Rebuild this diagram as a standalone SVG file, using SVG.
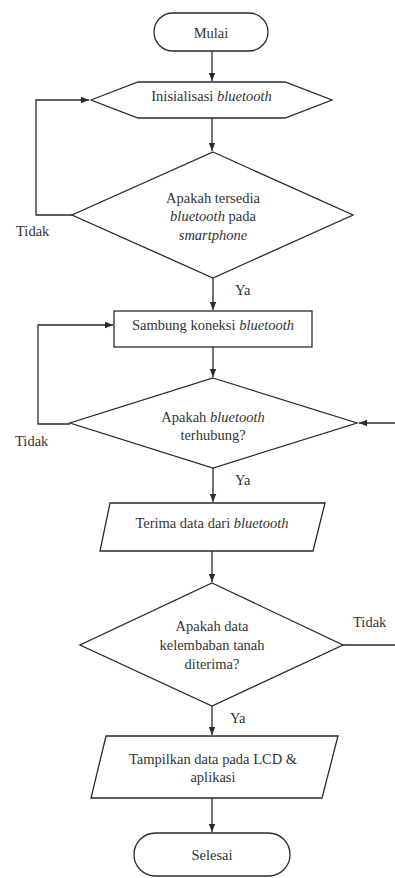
<svg xmlns="http://www.w3.org/2000/svg" width="395" height="878" viewBox="0 0 395 878">
<style>
  .shape { fill: #ffffff; stroke: #2a2a2a; stroke-width: 1.3; }
  .conn { fill: none; stroke: #2a2a2a; stroke-width: 1.3; }
  text { font-family: "Liberation Serif", "Times New Roman", serif; font-size: 14.5px; fill: #333333; }
  .c { text-anchor: middle; }
  .i { font-style: italic; }
</style>
<defs>
  <marker id="ah" markerUnits="userSpaceOnUse" markerWidth="8" markerHeight="8" viewBox="0 0 8 8" refX="8" refY="4" orient="auto">
    <path d="M0,0.8 L8,4 L0,7.2 Z" fill="#2a2a2a"/>
  </marker>
</defs>
<rect width="395" height="878" fill="#ffffff"/>

<g id="connectors">
  <line class="conn" x1="212" y1="51" x2="212" y2="81" marker-end="url(#ah)"/>
  <line class="conn" x1="212" y1="118" x2="212" y2="151" marker-end="url(#ah)"/>
  <polyline class="conn" points="72,215 36,215 36,100 89,100" marker-end="url(#ah)"/>
  <line class="conn" x1="213" y1="278" x2="213" y2="310" marker-end="url(#ah)"/>
  <polyline class="conn" points="70,424 38,424 38,325 113,325" marker-end="url(#ah)"/>
  <line class="conn" x1="213" y1="347" x2="213" y2="377" marker-end="url(#ah)"/>
  <line class="conn" x1="395" y1="423" x2="359" y2="423" marker-end="url(#ah)"/>
  <line class="conn" x1="213" y1="468" x2="213" y2="502" marker-end="url(#ah)"/>
  <line class="conn" x1="212" y1="551" x2="212" y2="582" marker-end="url(#ah)"/>
  <line class="conn" x1="343" y1="645" x2="395" y2="645"/>
  <line class="conn" x1="212" y1="706" x2="212" y2="735" marker-end="url(#ah)"/>
  <line class="conn" x1="212" y1="798" x2="212" y2="832" marker-end="url(#ah)"/>
  <text x="16" y="236">Tidak</text>
  <text x="235" y="295">Ya</text>
  <text x="15" y="446">Tidak</text>
  <text x="235" y="485">Ya</text>
  <text x="353" y="627">Tidak</text>
  <text x="230" y="723">Ya</text>
</g>

<g id="mulai">
  <rect class="shape" x="154" y="13" width="114" height="38" rx="19" ry="19"/>
  <text class="c" x="211" y="38">Mulai</text>
</g>

<g id="inisialisasi">
  <polygon class="shape" points="91,100 138,82 285,82 332,100 285,118 138,118"/>
  <text class="c" x="211.5" y="101">Inisialisasi <tspan class="i">bluetooth</tspan></text>
</g>

<g id="cek-tersedia">
  <polygon class="shape" points="213,152 353,215 213,278 72,215"/>
  <text class="c" x="213" y="203">Apakah tersedia</text>
  <text class="c" x="213" y="221"><tspan class="i">bluetooth</tspan> pada</text>
  <text class="c" x="213" y="240" font-style="italic">smartphone</text>
</g>

<g id="sambung">
  <rect class="shape" x="114" y="311" width="198" height="36"/>
  <text class="c" x="213" y="330">Sambung koneksi <tspan class="i">bluetooth</tspan></text>
</g>

<g id="cek-terhubung">
  <polygon class="shape" points="213,378 357,423 213,468 70,423"/>
  <text class="c" x="213" y="422">Apakah <tspan class="i">bluetooth</tspan></text>
  <text class="c" x="213" y="440">terhubung?</text>
</g>

<g id="terima">
  <polygon class="shape" points="110,503 325,503 313,551 100,551"/>
  <text class="c" x="212" y="528">Terima data dari <tspan class="i">bluetooth</tspan></text>
</g>

<g id="cek-data">
  <polygon class="shape" points="212,583 343,645 212,706 80,645"/>
  <text class="c" x="212" y="631">Apakah data</text>
  <text class="c" x="212" y="650">kelembaban tanah</text>
  <text class="c" x="212" y="669">diterima?</text>
</g>

<g id="tampilkan">
  <polygon class="shape" points="106,736 338,736 322,798 91,798"/>
  <text class="c" x="213" y="764">Tampilkan data pada LCD &amp;</text>
  <text class="c" x="213" y="782">aplikasi</text>
</g>

<g id="selesai">
  <rect class="shape" x="134" y="833" width="156" height="43" rx="21.5" ry="21.5"/>
  <text class="c" x="212" y="860">Selesai</text>
</g>
</svg>
